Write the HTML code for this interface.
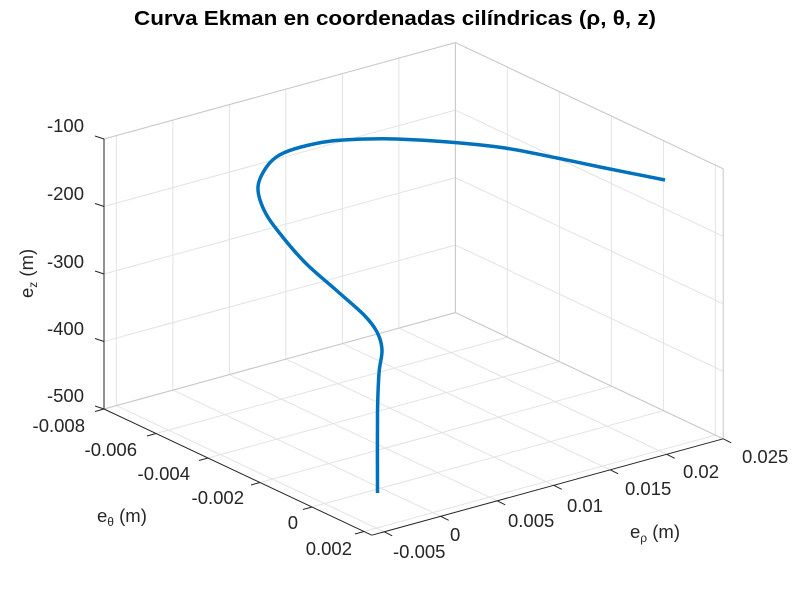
<!DOCTYPE html>
<html><head><meta charset="utf-8"><style>
html,body{margin:0;padding:0;background:#fff;}
svg{display:block;font-family:"Liberation Sans",sans-serif;}
</style></head><body>
<svg id="s" width="800" height="600" xmlns="http://www.w3.org/2000/svg">
<rect width="800" height="600" fill="#fff"/>
<g id="grid"></g>
<text x="395" y="25" text-anchor="middle" font-size="20" font-weight="bold" fill="#000" textLength="522" lengthAdjust="spacingAndGlyphs">Curva Ekman en coordenadas cilíndricas (ρ, θ, z)</text>
<g font-size="18.5" fill="#262626" text-anchor="end">
<text x="84" y="132">-100</text>
<text x="84" y="200">-200</text>
<text x="84" y="268">-300</text>
<text x="84" y="335">-400</text>
<text x="84" y="402">-500</text>
<text x="85" y="432">-0.008</text>
<text x="137" y="456">-0.006</text>
<text x="190" y="480">-0.004</text>
<text x="244" y="504">-0.002</text>
<text x="298" y="529">0</text>
<text x="352" y="555">0.002</text>
</g>
<g font-size="18.5" fill="#262626" text-anchor="start">
<text x="393" y="558">-0.005</text>
<text x="450" y="541">0</text>
<text x="508" y="527">0.005</text>
<text x="567" y="512">0.01</text>
<text x="625" y="495">0.015</text>
<text x="683" y="478">0.02</text>
<text x="742" y="463">0.025</text>
</g>
<text font-size="18.5" fill="#262626" transform="translate(33,298) rotate(-90)">e<tspan font-size="12" dy="4">z</tspan><tspan dy="-4"> (m)</tspan></text>
<text x="97" y="522" font-size="18.5" fill="#262626">e<tspan font-size="12" dy="4">θ</tspan><tspan dy="-4"> (m)</tspan></text>
<text x="630" y="538" font-size="18.5" fill="#262626">e<tspan font-size="12" dy="4">ρ</tspan><tspan dy="-4"> (m)</tspan></text>
<path id="curve" fill="none" stroke="#0072BD" stroke-width="3.5" stroke-linejoin="round" d=""/>
</svg>
<script>
(function(){
var rmin=-6.1,rmax=25,tmin=-8,tmax=2.3,zmin=-500,zmax=-100;
function P(r,t,z){return [104+(r-rmin)*11.3+(t-tmin)*26, 409-(r-rmin)*3.1+(t-tmin)*12.25-(z+500)*0.675];}
var g=document.getElementById('grid'),s='';
function L(a,b,c,w){s+='<line x1="'+a[0].toFixed(1)+'" y1="'+a[1].toFixed(1)+'" x2="'+b[0].toFixed(1)+'" y2="'+b[1].toFixed(1)+'" stroke="'+c+'" stroke-width="'+(w||1)+'"/>';}
var gc='#e3e3e3';
var rt=[-5,0,5,10,15,20,25],tt=[-8,-6,-4,-2,0,2],zt=[-500,-400,-300,-200,-100];
rt.forEach(function(r){L(P(r,tmin,zmin),P(r,tmin,zmax),gc);L(P(r,tmin,zmin),P(r,tmax,zmin),gc);});
tt.forEach(function(t){L(P(rmax,t,zmin),P(rmax,t,zmax),gc);L(P(rmin,t,zmin),P(rmax,t,zmin),gc);});
zt.forEach(function(z){L(P(rmin,tmin,z),P(rmax,tmin,z),gc);L(P(rmax,tmin,z),P(rmax,tmax,z),gc);});
var bc='#c8c8c8';
L(P(rmin,tmin,zmax),P(rmax,tmin,zmax),bc);L(P(rmax,tmin,zmax),P(rmax,tmax,zmax),bc);
L(P(rmax,tmin,zmin),P(rmax,tmin,zmax),bc);L(P(rmax,tmax,zmin),P(rmax,tmax,zmax),bc);
L(P(rmin,tmin,zmin),P(rmax,tmin,zmin),bc);L(P(rmax,tmin,zmin),P(rmax,tmax,zmin),bc);
var ac='#262626';
L(P(rmin,tmin,zmin),P(rmin,tmin,zmax),ac);
L(P(rmin,tmin,zmin),P(rmin,tmax,zmin),ac);
L(P(rmin,tmax,zmin),P(rmax,tmax,zmin),ac);
zt.forEach(function(z){var p=P(rmin,tmin,z);L(p,[p[0]-9,p[1]-3],ac);});
tt.forEach(function(t){var p=P(rmin,t,zmin);L(p,[p[0]-9,p[1]+2.5],ac);});
rt.forEach(function(r){var p=P(r,tmax,zmin);L(p,[p[0]+8,p[1]+4],ac);});
g.innerHTML=s;
var pts=[[377.5,493],[377.5,413],[379,373],[382,350],[377,332],[364,315],[336,290],[305.5,263],[279.5,233],[264,210],[258,187],[266.5,167],[279.5,155],[301,147],[331.5,141],[366,139],[396.5,139],[448.6,142],[505,148],[557,158],[600,167],[665,180]];
var d='M'+pts[0][0]+','+pts[0][1];
for(var i=0;i<pts.length-1;i++){
 var p0=pts[Math.max(i-1,0)],p1=pts[i],p2=pts[i+1],p3=pts[Math.min(i+2,pts.length-1)];
 var c1=[p1[0]+(p2[0]-p0[0])/6,p1[1]+(p2[1]-p0[1])/6],c2=[p2[0]-(p3[0]-p1[0])/6,p2[1]-(p3[1]-p1[1])/6];
 d+=' C'+c1[0].toFixed(1)+','+c1[1].toFixed(1)+' '+c2[0].toFixed(1)+','+c2[1].toFixed(1)+' '+p2[0]+','+p2[1];
}
document.getElementById('curve').setAttribute('d',d);
})();
</script>
</body></html>
